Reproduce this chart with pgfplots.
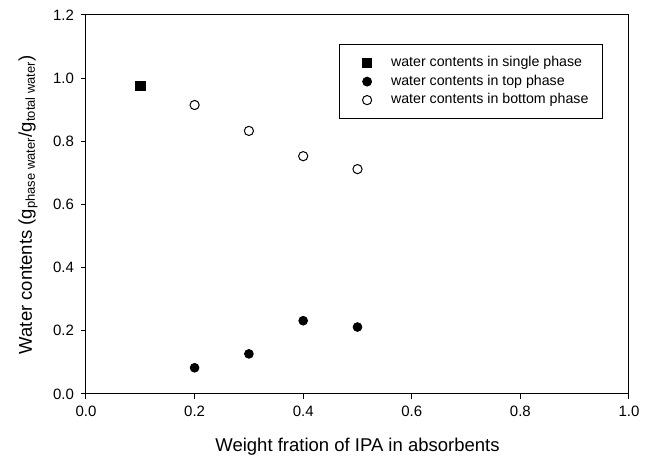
\documentclass[border=0pt]{standalone}
\usepackage{fontspec}
\setmainfont{Liberation Sans}
\usepackage{pgfplots}
\pgfplotsset{compat=1.18}

\pgfplotstableread{
x y
0.1 0.975
}\single
\pgfplotstableread{
x y
0.2 0.083
0.3 0.127
0.4 0.232
0.5 0.212
}\toptab
\pgfplotstableread{
x y
0.2 0.915
0.3 0.833
0.4 0.753
0.5 0.712
}\bottomtab

\begin{document}
\begin{tikzpicture}
\useasboundingbox (-43pt,-32pt) rectangle (282pt,197pt);
\begin{axis}[
    scale only axis,
    width=271.5pt, height=189.5pt,
    xmin=0, xmax=1, ymin=0, ymax=1.2,
    xtick={0,0.2,0.4,0.6,0.8,1.0},
    ytick={0,0.2,0.4,0.6,0.8,1.0,1.2},
    xticklabel style={/pgf/number format/.cd,fixed,fixed zerofill,precision=1},
    yticklabel style={/pgf/number format/.cd,fixed,fixed zerofill,precision=1},
    /pgf/number format/assume math mode=true,
    tick label style={font=\fontsize{7.5}{9}\selectfont},
    label style={font=\fontsize{9.25}{11}\selectfont},
    xtick pos=left, ytick pos=left,
    tick align=outside,
    major tick length=2.5pt,
    axis line style={line width=0.5pt},
    every tick/.style={black, line width=0.5pt},
    xlabel={Weight fration of IPA in absorbents},
    ylabel={Water contents (g\textsubscript{phase water}/g\textsubscript{total water})},
    xlabel style={at={(axis description cs:0.5,0)}, anchor=center, yshift=-26.5pt},
    ylabel style={at={(axis description cs:0,0.5)}, anchor=center, yshift=29pt},
    legend image code/.code={
        \path[draw=none, fill=none] (0pt,0pt) (17pt,0pt);
        \draw[#1] plot coordinates {(9pt,0pt)};
    },
    legend style={at={(axis description cs:0.952,0.9235)}, anchor=north east,
        draw=black, line width=0.5pt, fill=white,
        font=\fontsize{7.1}{8.5}\selectfont,
        inner xsep=5pt, inner ysep=5pt, row sep=0.6pt, column sep=2pt,
        nodes={inner ysep=1pt}},
    legend cell align=left,
]
\addplot[only marks, mark=square*, mark size=2.4pt, black] table {\single};
\addlegendentry{water contents in single phase}
\addplot[only marks, mark=*, mark size=2.2pt, black] table {\toptab};
\addlegendentry{water contents in top phase}
\addplot[only marks, mark=o, mark size=2.3pt, black, mark options={fill=white, line width=0.5pt}] table {\bottomtab};
\addlegendentry{water contents in bottom phase}
\end{axis}
\end{tikzpicture}
\end{document}
